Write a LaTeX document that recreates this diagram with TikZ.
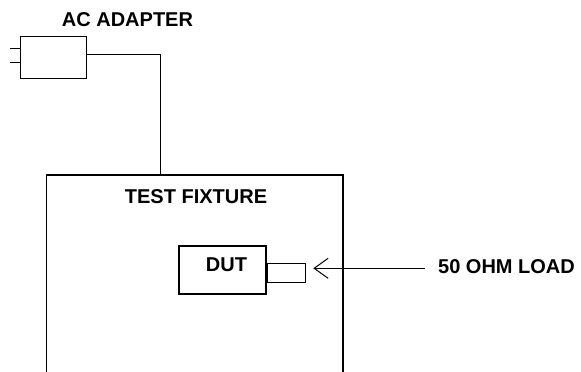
\documentclass[tikz,border=0pt]{standalone}
\usepackage{fontspec}
\setmainfont{Liberation Sans}
\usetikzlibrary{arrows.meta}
\tikzstyle{block}=[draw,rectangle,line width=1.2pt,inner sep=0pt]
\tikzstyle{caption}=[font=\fontsize{20}{22}\selectfont\bfseries,inner sep=0pt]
\tikzstyle{wire}=[line width=1.2pt]

\begin{document}
\begin{tikzpicture}[x=1pt,y=-1pt]
    \useasboundingbox (0,0) rectangle (581,372);
    \node[caption] (adaptertext) at (127.5,19.5) {AC ADAPTER};
    \node[block,minimum width=66pt,minimum height=41.5pt] (adapter) at (53.7,57.5) {};
    \node[caption] (fixturetext) at (196,197) {TEST FIXTURE};
    \node[block,minimum width=87pt,minimum height=48pt] (dut) at (222.5,270) {};
    \node[caption] (duttext) at (226.5,265) {DUT};
    \node[block,minimum width=38pt,minimum height=19.5pt,anchor=west] (plug) at (dut.east |- 0,273) {};
    \node[caption,anchor=west] (loadtext) at (438,267) {50 OHM LOAD};
    \coordinate (wirejoin) at (160.7,175);

    % fixture, open at the bottom
    \draw[wire] (46.7,372) -- (46.7,175) -- (343,175) -- (343,372);

    % adapter prongs and lead
    \draw[wire] ([yshift=9.2pt]adapter.west) -- ++(-10,0);
    \draw[wire] ([yshift=-5.2pt]adapter.west) -- ++(-10,0);
    \draw[wire] ([yshift=3.2pt]adapter.east) -| (wirejoin);

    % load
    \draw[wire,-{Straight Barb[length=14pt,width=20pt,line width=1pt]},shorten <=13pt,shorten >=7.5pt]
        (loadtext.west |- 0,268.3) -- (plug.east |- 0,268.3);
\end{tikzpicture}
\end{document}
